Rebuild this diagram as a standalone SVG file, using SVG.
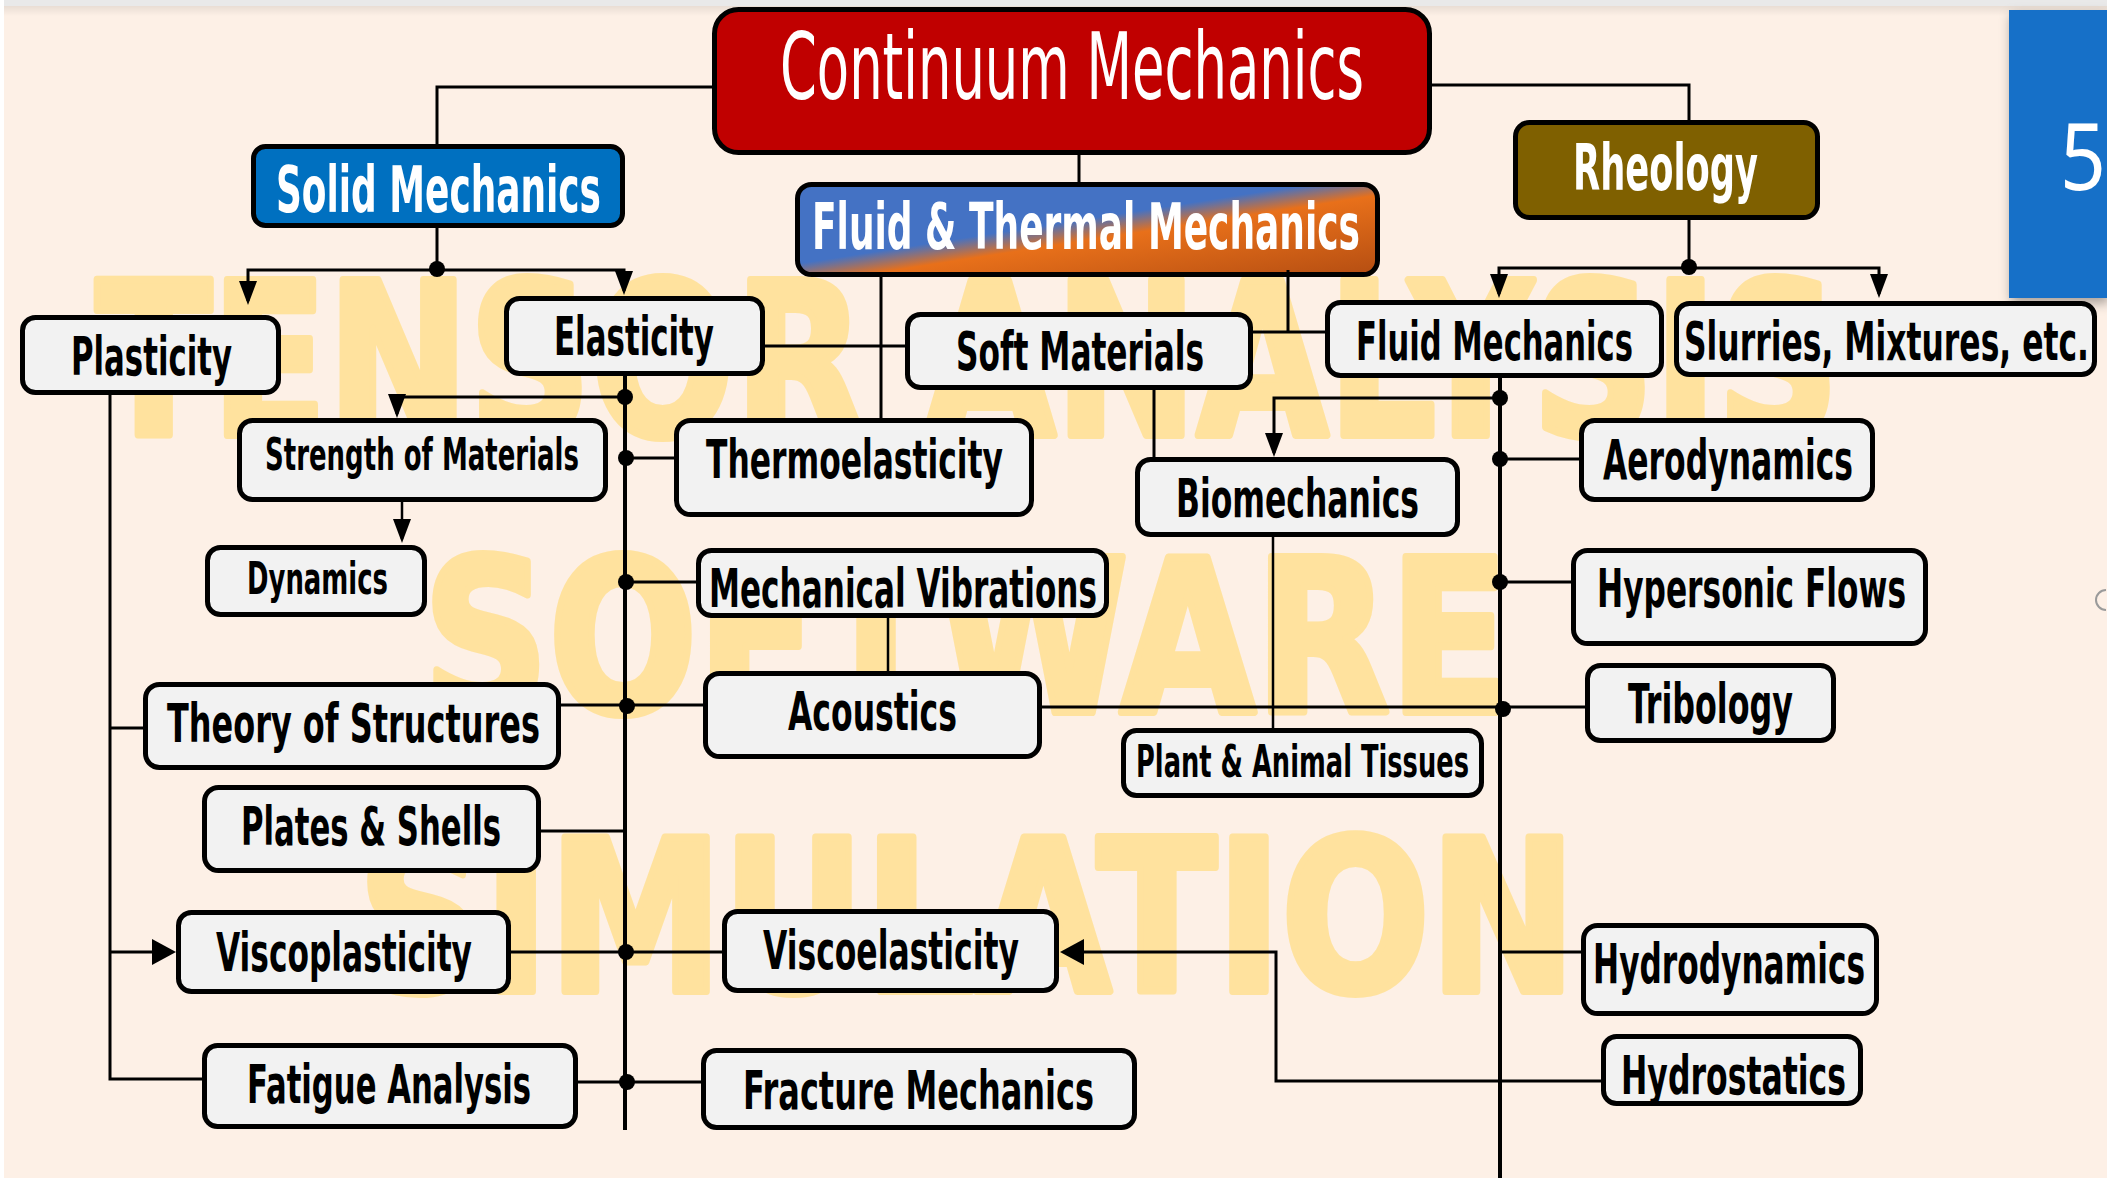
<svg xmlns="http://www.w3.org/2000/svg" width="2107" height="1178" viewBox="0 0 2107 1178">
<style>
.bg{fill:#FDF0E6}
.wm{font-family:"DejaVu Sans","Liberation Sans",sans-serif;font-weight:bold;fill:#FFE29E;stroke:#FFE29E;stroke-width:8;stroke-linejoin:round}
.node rect{fill:#F2F2F2;stroke:#000;stroke-width:5}
.lbl{font-family:"Liberation Sans Narrow","DejaVu Sans Condensed","DejaVu Sans",sans-serif;font-weight:bold;fill:#000;font-size:53px}
.sm{font-size:44px}
.f54{font-size:54px}
.f55{font-size:55px}
.f64{font-size:64px}
.f92{font-size:92px;font-weight:normal}
.top rect{stroke:#000;stroke-width:5}
.top text{fill:#FFF}
#connectors path{fill:none;stroke:#000;stroke-width:3}
#connectors .thick{stroke-width:4}
#connectors circle{fill:#000}
</style>
<defs>
<linearGradient id="ftm" x1="0" y1="0" x2="1" y2="1">
<stop offset="0" stop-color="#4472C4"/>
<stop offset="0.44" stop-color="#4472C4"/>
<stop offset="0.56" stop-color="#E8701A"/>
<stop offset="1" stop-color="#B54E12"/>
</linearGradient>
<linearGradient id="topsh" x1="0" y1="0" x2="0" y2="1">
<stop offset="0" stop-color="#000" stop-opacity="0.08"/>
<stop offset="1" stop-color="#000" stop-opacity="0"/>
</linearGradient>
<filter id="sh" x="-20%" y="-20%" width="140%" height="140%">
<feDropShadow dx="2" dy="5" stdDeviation="6" flood-color="#000" flood-opacity="0.35"/>
</filter>
<marker id="arrS" markerUnits="userSpaceOnUse" markerWidth="24" markerHeight="18" refX="20" refY="9" orient="auto">
<path d="M0,0 L24,9 L0,18 z" fill="#000"/>
</marker>
<marker id="arrL" markerUnits="userSpaceOnUse" markerWidth="24" markerHeight="26" refX="20" refY="13" orient="auto">
<path d="M0,0 L24,13 L0,26 z" fill="#000"/>
</marker>
</defs>

<rect class="bg" x="0" y="0" width="2107" height="1178"/>
<rect x="0" y="0" width="2107" height="6" fill="#E9E9E9"/>
<rect x="0" y="6" width="2107" height="10" fill="url(#topsh)"/>
<rect x="0" y="0" width="4" height="1178" fill="#FFFFFF"/>

<g id="watermark">
<text class="wm" x="96" y="435" font-size="212" textLength="1743" lengthAdjust="spacingAndGlyphs">TENSOR ANALYSIS</text>
<text class="wm" x="423" y="712" font-size="213" textLength="1086" lengthAdjust="spacingAndGlyphs">SOFTWARE</text>
<text class="wm" x="358" y="991" font-size="211" textLength="1218" lengthAdjust="spacingAndGlyphs">SIMULATION</text>
</g>

<g id="panel5">
<rect x="2009" y="10" width="98" height="288" fill="#1670C8" filter="url(#sh)"/>
<text x="2060" y="190" font-family="'Noto Sans','Open Sans',sans-serif" font-size="94" fill="#FFF" textLength="46" lengthAdjust="spacingAndGlyphs">5</text>
<path d="M2106,590 A10,10 0 0 0 2106,610" fill="none" stroke="#9A9A9A" stroke-width="2"/>
</g>

<g id="n-continuum" class="top">
<rect x="714.5" y="9.5" width="715" height="143" rx="24" fill="#C00000"/>
<text class="lbl f92" x="780" y="99" textLength="584" lengthAdjust="spacingAndGlyphs">Continuum Mechanics</text>
</g>
<g id="n-solid" class="top">
<rect x="253.5" y="146.5" width="369" height="79" rx="12" fill="#0070C0"/>
<text class="lbl f64" x="276" y="212" textLength="325" lengthAdjust="spacingAndGlyphs">Solid Mechanics</text>
</g>
<g id="n-fluidthermal" class="top">
<rect x="797.5" y="184.5" width="580" height="90" rx="14" fill="url(#ftm)"/>
<text class="lbl f64" x="812" y="249" textLength="548" lengthAdjust="spacingAndGlyphs">Fluid &amp; Thermal Mechanics</text>
</g>
<g id="n-rheology" class="top">
<rect x="1515.5" y="122.5" width="302" height="95" rx="14" fill="#7F6000"/>
<text class="lbl f64" x="1573" y="190" textLength="185" lengthAdjust="spacingAndGlyphs">Rheology</text>
</g>

<g id="n-plasticity" class="node"><rect x="22.5" y="317.5" width="256" height="75" rx="13"/>
<text class="lbl" x="71" y="375" textLength="161" lengthAdjust="spacingAndGlyphs">Plasticity</text></g>
<g id="n-elasticity" class="node"><rect x="506.5" y="298.5" width="256" height="75" rx="13"/>
<text class="lbl" x="554" y="355" textLength="160" lengthAdjust="spacingAndGlyphs">Elasticity</text></g>
<g id="n-soft" class="node"><rect x="907.5" y="314.5" width="343" height="73" rx="13"/>
<text class="lbl" x="956" y="370" textLength="248" lengthAdjust="spacingAndGlyphs">Soft Materials</text></g>
<g id="n-fluidmech" class="node"><rect x="1327.5" y="302.5" width="334" height="73" rx="13"/>
<text class="lbl" x="1356" y="360" textLength="277" lengthAdjust="spacingAndGlyphs">Fluid Mechanics</text></g>
<g id="n-slurries" class="node"><rect x="1676.5" y="303.5" width="418" height="71" rx="13"/>
<text class="lbl" x="1684" y="360" textLength="405" lengthAdjust="spacingAndGlyphs">Slurries, Mixtures, etc.</text></g>
<g id="n-strength" class="node"><rect x="239.5" y="420.5" width="366" height="79" rx="13"/>
<text class="lbl sm" x="265" y="470" textLength="314" lengthAdjust="spacingAndGlyphs">Strength of Materials</text></g>
<g id="n-thermo" class="node"><rect x="676.5" y="420.5" width="355" height="94" rx="14"/>
<text class="lbl f54" x="706" y="478" textLength="297" lengthAdjust="spacingAndGlyphs">Thermoelasticity</text></g>
<g id="n-dynamics" class="node"><rect x="207.5" y="547.5" width="217" height="67" rx="13"/>
<text class="lbl sm" x="247" y="594" textLength="141" lengthAdjust="spacingAndGlyphs">Dynamics</text></g>
<g id="n-mechvib" class="node"><rect x="698.5" y="550.5" width="408" height="65" rx="13"/>
<text class="lbl f54" x="709" y="607" textLength="388" lengthAdjust="spacingAndGlyphs">Mechanical Vibrations</text></g>
<g id="n-acoustics" class="node"><rect x="705.5" y="673.5" width="334" height="83" rx="14"/>
<text class="lbl" x="788" y="730" textLength="169" lengthAdjust="spacingAndGlyphs">Acoustics</text></g>
<g id="n-biomech" class="node"><rect x="1137.5" y="459.5" width="320" height="75" rx="13"/>
<text class="lbl f54" x="1176" y="517" textLength="243" lengthAdjust="spacingAndGlyphs">Biomechanics</text></g>
<g id="n-aero" class="node"><rect x="1581.5" y="420.5" width="291" height="79" rx="13"/>
<text class="lbl f55" x="1603" y="479" textLength="250" lengthAdjust="spacingAndGlyphs">Aerodynamics</text></g>
<g id="n-hypersonic" class="node"><rect x="1573.5" y="550.5" width="352" height="93" rx="14"/>
<text class="lbl f54" x="1597" y="607" textLength="309" lengthAdjust="spacingAndGlyphs">Hypersonic Flows</text></g>
<g id="n-tribology" class="node"><rect x="1587.5" y="665.5" width="246" height="75" rx="13"/>
<text class="lbl f55" x="1628" y="723" textLength="165" lengthAdjust="spacingAndGlyphs">Tribology</text></g>
<g id="n-plant" class="node"><rect x="1123.5" y="730.5" width="358" height="65" rx="13"/>
<text class="lbl sm" x="1136" y="777" textLength="333" lengthAdjust="spacingAndGlyphs">Plant &amp; Animal Tissues</text></g>
<g id="n-theory" class="node"><rect x="145.5" y="684.5" width="413" height="83" rx="14"/>
<text class="lbl" x="167" y="742" textLength="373" lengthAdjust="spacingAndGlyphs">Theory of Structures</text></g>
<g id="n-plates" class="node"><rect x="204.5" y="787.5" width="334" height="83" rx="14"/>
<text class="lbl" x="241" y="845" textLength="260" lengthAdjust="spacingAndGlyphs">Plates &amp; Shells</text></g>
<g id="n-viscoplast" class="node"><rect x="178.5" y="912.5" width="330" height="79" rx="13"/>
<text class="lbl f54" x="216" y="971" textLength="256" lengthAdjust="spacingAndGlyphs">Viscoplasticity</text></g>
<g id="n-fatigue" class="node"><rect x="204.5" y="1045.5" width="371" height="81" rx="13"/>
<text class="lbl" x="247" y="1103" textLength="284" lengthAdjust="spacingAndGlyphs">Fatigue Analysis</text></g>
<g id="n-viscoelast" class="node"><rect x="724.5" y="911.5" width="332" height="79" rx="13"/>
<text class="lbl" x="763" y="969" textLength="256" lengthAdjust="spacingAndGlyphs">Viscoelasticity</text></g>
<g id="n-fracture" class="node"><rect x="703.5" y="1050.5" width="431" height="77" rx="13"/>
<text class="lbl f54" x="743" y="1109" textLength="351" lengthAdjust="spacingAndGlyphs">Fracture Mechanics</text></g>
<g id="n-hydrodyn" class="node"><rect x="1583.5" y="925.5" width="293" height="88" rx="14"/>
<text class="lbl f55" x="1593" y="983" textLength="272" lengthAdjust="spacingAndGlyphs">Hydrodynamics</text></g>
<g id="n-hydrostat" class="node"><rect x="1603.5" y="1036.5" width="257" height="67" rx="13"/>
<text class="lbl f54" x="1621" y="1094" textLength="225" lengthAdjust="spacingAndGlyphs">Hydrostatics</text></g>

<g id="connectors">
<path d="M714,87 H437 V144"/>
<path d="M1432,85 H1689 V120"/>
<path d="M1079,155 V182"/>
<path d="M437,228 V270"/>
<path d="M437,270 H248 V301" marker-end="url(#arrS)"/>
<path d="M437,270 H624 V291" marker-end="url(#arrS)"/>
<circle cx="437" cy="269" r="8"/>
<path d="M1689,220 V268"/>
<path d="M1689,268 H1499 V294" marker-end="url(#arrS)"/>
<path d="M1689,268 H1879 V294" marker-end="url(#arrS)"/>
<circle cx="1689" cy="267" r="8"/>
<path d="M765,346 H905"/>
<path d="M881,277 V418"/>
<path d="M1288,270 V332 M1253,332 H1325"/>
<path d="M1154,390 V457"/>
<path class="thick" d="M1500,378 V1178"/>
<path d="M1500,398 H1274 V453" marker-end="url(#arrS)"/>
<circle cx="1500" cy="398" r="8"/>
<path d="M1500,459 H1579"/>
<circle cx="1500" cy="459" r="8"/>
<path d="M1500,582 H1571"/>
<circle cx="1500" cy="582" r="8"/>
<path d="M1042,707 H1585"/>
<circle cx="1503" cy="709" r="8"/>
<path d="M1273,537 V728" style="stroke-width:2.5"/>
<path d="M1500,952 H1581"/>
<path d="M1601,1081 H1276 V952 H1064" marker-end="url(#arrL)"/>
<path d="M110,395 V1079 H202"/>
<path d="M110,728 H143"/>
<path d="M110,952 H172" marker-end="url(#arrL)"/>
<path class="thick" d="M625,376 V1130"/>
<path d="M625,397 H397 V414" marker-end="url(#arrS)"/>
<circle cx="625" cy="397" r="8"/>
<path d="M402,502 V539" style="stroke-width:2.5" marker-end="url(#arrS)"/>
<path d="M625,458 H674"/>
<circle cx="626" cy="458" r="8"/>
<path d="M625,582 H696"/>
<circle cx="626" cy="582" r="8"/>
<path d="M561,705 H703"/>
<circle cx="627" cy="706" r="8"/>
<path d="M541,831 H623"/>
<path d="M511,952 H722"/>
<circle cx="626" cy="952" r="8"/>
<path d="M578,1082 H701"/>
<circle cx="627" cy="1082" r="8"/>
<path d="M888,618 V671" style="stroke-width:2.5"/>
</g>
</svg>
